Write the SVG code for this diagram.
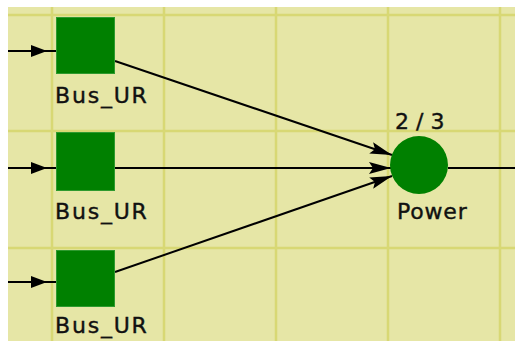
<svg xmlns="http://www.w3.org/2000/svg" width="515" height="341" viewBox="0 0 515 341">
  <defs>
    <style>
      .grid { stroke: #d8d874; stroke-width: 2.5; fill: none; }
      .node { fill: #008000; stroke: #2e9a2e; stroke-width: 1; }
      .edge { stroke: #000; stroke-width: 2; fill: none; }
      .label { font-family: "DejaVu Sans", "Liberation Sans", sans-serif; font-size: 22px; fill: #111; stroke: #111; stroke-width: 0.4; }
      .bus { letter-spacing: 1.8px; }
      .pw { letter-spacing: 0.8px; }
    </style>
    <marker id="arrow" viewBox="0 0 16 12" refX="16" refY="6" markerWidth="16" markerHeight="12" markerUnits="userSpaceOnUse" orient="auto">
      <path d="M0,0 L16,6 L0,12 Z" fill="#000"/>
    </marker>
    <marker id="arrowBig" viewBox="0 0 22 12" refX="22" refY="6" markerWidth="22" markerHeight="12" markerUnits="userSpaceOnUse" orient="auto">
      <path d="M0,0 L22,6 L0,12 L4,6 Z" fill="#000"/>
    </marker>
  </defs>

  <!-- canvas -->
  <rect x="0" y="0" width="515" height="341" fill="#ffffff"/>
  <rect x="8" y="7" width="507" height="334" fill="#e6e6a6"/>

  <!-- grid -->
  <g id="grid" class="grid">
    <line x1="8" y1="15" x2="515" y2="15"/>
    <line x1="8" y1="131" x2="515" y2="131"/>
    <line x1="8" y1="248" x2="515" y2="248"/>
    <line x1="52" y1="7" x2="52" y2="341"/>
    <line x1="164" y1="7" x2="164" y2="341"/>
    <line x1="276" y1="7" x2="276" y2="341"/>
    <line x1="388" y1="7" x2="388" y2="341"/>
    <line x1="500" y1="7" x2="500" y2="341"/>
  </g>

  <!-- connectors -->
  <g id="connectors">
    <line class="edge" x1="8" y1="51" x2="47" y2="51" marker-end="url(#arrow)"/>
    <line class="edge" x1="47" y1="51" x2="56" y2="51"/>
    <line class="edge" x1="8" y1="168" x2="47" y2="168" marker-end="url(#arrow)"/>
    <line class="edge" x1="47" y1="168" x2="56" y2="168"/>
    <line class="edge" x1="8" y1="282" x2="47" y2="282" marker-end="url(#arrow)"/>
    <line class="edge" x1="47" y1="282" x2="56" y2="282"/>

    <line class="edge" x1="115" y1="61" x2="392" y2="155" marker-end="url(#arrowBig)"/>
    <line class="edge" x1="115" y1="168" x2="391" y2="168" marker-end="url(#arrowBig)"/>
    <line class="edge" x1="115" y1="272" x2="392" y2="176" marker-end="url(#arrowBig)"/>

    <line class="edge" x1="448" y1="168" x2="515" y2="168"/>
  </g>

  <!-- nodes -->
  <g id="bus1">
    <rect class="node" x="56.5" y="17.5" width="58" height="56"/>
    <text class="label bus" x="55" y="103">Bus_UR</text>
  </g>
  <g id="bus2">
    <rect class="node" x="56.5" y="132.5" width="58" height="58"/>
    <text class="label bus" x="55" y="219">Bus_UR</text>
  </g>
  <g id="bus3">
    <rect class="node" x="56.5" y="250.5" width="58" height="56"/>
    <text class="label bus" x="55" y="333">Bus_UR</text>
  </g>
  <g id="power">
    <circle cx="419" cy="165" r="29" fill="#008000"/>
    <text class="label" x="395" y="129">2 / 3</text>
    <text class="label pw" x="397" y="219">Power</text>
  </g>
</svg>
